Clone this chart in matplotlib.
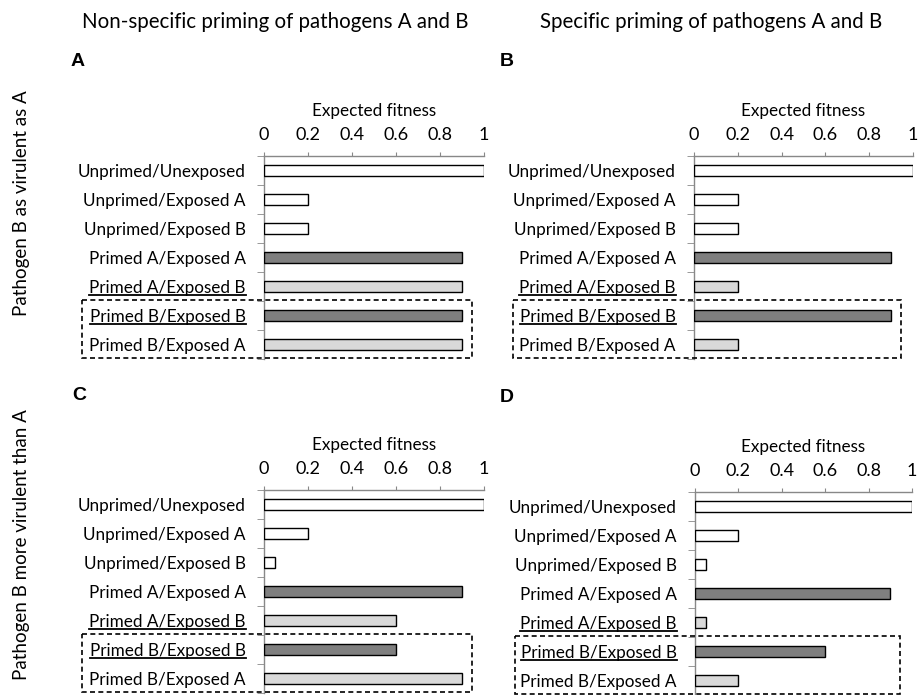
import matplotlib
matplotlib.use("Agg")
import matplotlib.pyplot as plt
from matplotlib.patches import Rectangle
from matplotlib.lines import Line2D

plt.rcParams['font.family'] = ['Lato', 'DejaVu Sans']

categories = ["Unprimed/Unexposed", "Unprimed/Exposed A", "Unprimed/Exposed B",
              "Primed A/Exposed A", "Primed A/Exposed B", "Primed B/Exposed B",
              "Primed B/Exposed A"]
underlined = ["Primed A/Exposed B", "Primed B/Exposed B"]
bar_colors = ["#ffffff", "#ffffff", "#ffffff", "#7f7f7f", "#d9d9d9", "#7f7f7f", "#d9d9d9"]

values_A = [1.0, 0.2, 0.2, 0.9, 0.9, 0.9, 0.9]
values_B = [1.0, 0.2, 0.2, 0.9, 0.2, 0.9, 0.2]
values_C = [1.0, 0.2, 0.05, 0.9, 0.6, 0.6, 0.9]
values_D = [1.0, 0.2, 0.05, 0.9, 0.05, 0.6, 0.2]

x_ticks = [0, 0.2, 0.4, 0.6, 0.8, 1]
x_tick_labels = ["0", "0.2", "0.4", "0.6", "0.8", "1"]
col_titles = ["Non-specific priming of pathogens A and B", "Specific priming of pathogens A and B"]
row_titles = ["Pathogen B as virulent as A", "Pathogen B more virulent than A"]
panel_letters = ["A", "B", "C", "D"]

W, H = 919, 695
fig = plt.figure(figsize=(W / 100, H / 100), dpi=100)

# axes rectangles in pixels: (left, top, right, bottom)
rects = [(264, 156, 484, 359), (694, 156, 913, 359),
         (264, 490, 484, 693), (695, 492, 912, 695)]
values_all = [values_A, values_B, values_C, values_D]
letter_pos = [(78, 61), (507, 61), (79, 396), (507, 398)]

FS = 12.3
axes = []
for (l, t, r, b), vals, letter, lp in zip(rects, values_all, panel_letters, letter_pos):
    ax = fig.add_axes([l / W, 1 - b / H, (r - l) / W, (b - t) / H])
    axes.append(ax)
    n = len(categories)
    ypos = list(range(n))
    ax.barh(ypos, vals, height=0.4, color=bar_colors, edgecolor="black", linewidth=1.0, zorder=3)
    ax.set_xlim(0, 1)
    ax.set_ylim(n - 0.5, -0.5)
    ax.xaxis.tick_top()
    ax.xaxis.set_label_position("top")
    ax.set_xticks(x_ticks, x_tick_labels, fontsize=13)
    ax.set_xlabel("Expected fitness", fontsize=12.3, labelpad=8)
    ax.tick_params(axis="x", length=3, color="#888888", pad=6)
    ax.set_yticks(ypos, categories, fontsize=FS)
    ax.tick_params(axis="y", which="major", length=0, pad=13)
    ax.set_yticks([i - 0.5 for i in range(n + 1)], minor=True)
    ax.tick_params(axis="y", which="minor", length=5, color="#888888")
    for s in ["right", "bottom"]:
        ax.spines[s].set_visible(False)
    for s in ["left", "top"]:
        ax.spines[s].set_color("#888888")
        ax.spines[s].set_linewidth(1.0)
    ax.set_facecolor("none")
    # dashed box around last two rows
    left_data = -0.828
    right_data = 0.947
    ax.add_patch(Rectangle((left_data, 4.48), right_data - left_data, 2.0,
                           transform=ax.transData, fill=False, edgecolor="black",
                           linestyle=(0, (3, 2)), linewidth=1.2, clip_on=False, zorder=5))
    fig.text(lp[0] / W, 1 - lp[1] / H, letter, fontsize=14, fontweight="bold",
             family=["Liberation Sans", "DejaVu Sans"], ha="center", va="center")

fig.text(275 / W, 1 - 22 / H, col_titles[0], fontsize=14.8, ha="center", va="center")
fig.text(711 / W, 1 - 22 / H, col_titles[1], fontsize=14.8, ha="center", va="center")
fig.text(22 / W, 1 - 203 / H, row_titles[0], fontsize=13.5, ha="center", va="center", rotation=90)
fig.text(22 / W, 1 - 545 / H, row_titles[1], fontsize=13.5, ha="center", va="center", rotation=90)

# underline selected tick labels
fig.canvas.draw()
renderer = fig.canvas.get_renderer()
for ax in axes:
    for lbl in ax.get_yticklabels():
        if lbl.get_text() in underlined:
            bb = lbl.get_window_extent(renderer)
            y = bb.y0 + 1
            fig.add_artist(Line2D([bb.x0 / W, bb.x1 / W], [y / H, y / H],
                                  transform=fig.transFigure, color="black", linewidth=1.3))

fig.savefig("out.png", dpi=100)
